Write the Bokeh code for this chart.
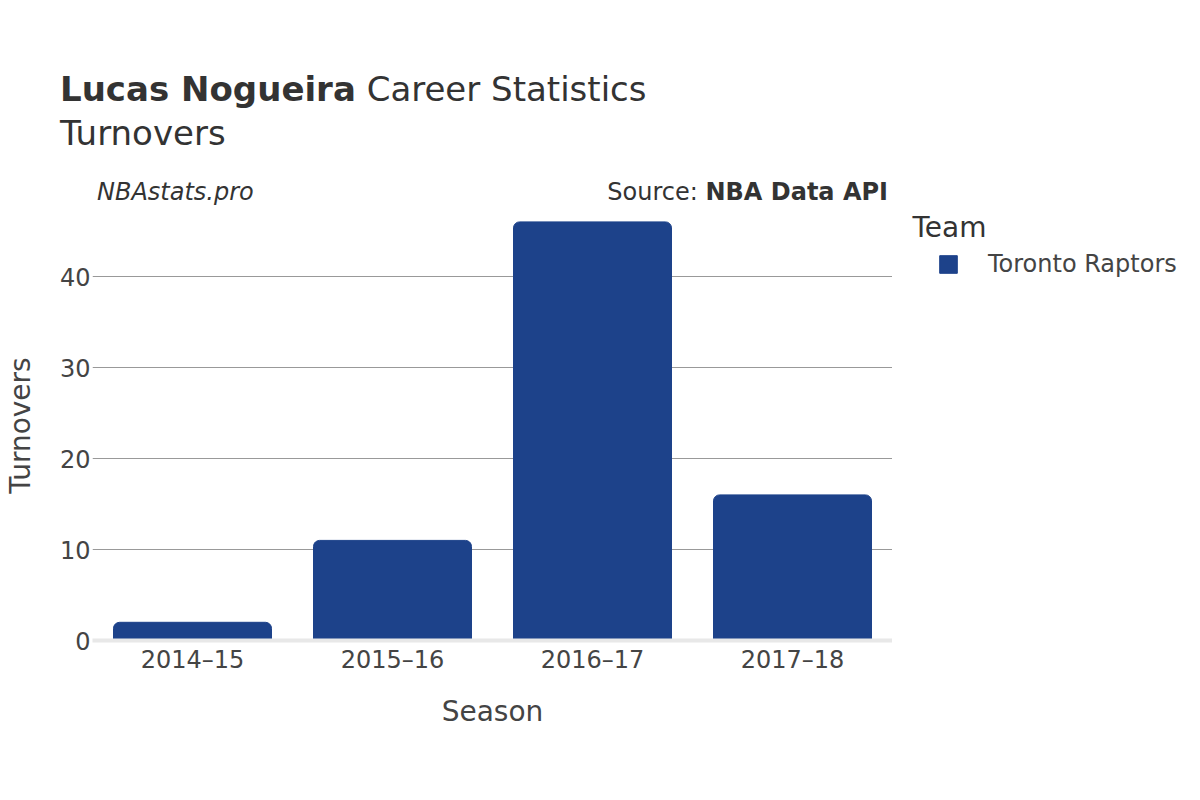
from bokeh.plotting import figure
from bokeh.models import ColumnDataSource, Label, Legend, LegendItem, FixedTicker, Range1d, FactorRange, Div
from bokeh.layouts import column, row
from bokeh.embed import file_html
from bokeh.resources import INLINE

seasons = ["2014–15", "2015–16", "2016–17", "2017–18"]
turnovers = [2, 11, 46, 16]
team = "Toronto Raptors"
y_ticks = [0, 10, 20, 30, 40]

FONT = "DejaVu Sans"
TXT = "#444444"
BAR = "#1d428a"
TOP_H = 210       # height of the header block (page px)
MAIN_W = 892
FIG_H = 800 - TOP_H
PAGE_FB = 640     # frame bottom on the page
FB = PAGE_FB - TOP_H  # frame bottom inside figure
Y_MAX = FB / 9.1

src = ColumnDataSource(dict(season=seasons, tov=turnovers))

p = figure(width=MAIN_W, height=FIG_H, x_range=FactorRange(*seasons), y_range=Range1d(0, Y_MAX),
           output_backend="svg", toolbar_location=None,
           min_border_left=92, min_border_right=0, min_border_top=0,
           min_border_bottom=FIG_H - FB, margin=(0, 0, 0, 0))
p.outline_line_color = None
p.background_fill_color = "white"
p.x_range.range_padding = 0

r = p.vbar(x="season", top="tov", width=0.79, source=src, color=BAR,
           border_radius=(6, 6, 0, 0))

p.ygrid.ticker = FixedTicker(ticks=y_ticks)
p.ygrid.grid_line_color = "#999999"
p.ygrid.grid_line_width = 1
p.xgrid.grid_line_color = None

p.yaxis.ticker = FixedTicker(ticks=y_ticks)
for ax in (p.xaxis[0], p.yaxis[0]):
    ax.axis_line_color = None
    ax.major_tick_line_color = None
    ax.minor_tick_line_color = None
    ax.major_tick_out = 0
    ax.major_tick_in = 0
    ax.minor_tick_out = 0
    ax.minor_tick_in = 0
    ax.major_label_text_font = FONT
    ax.major_label_text_font_size = "24px"
    ax.major_label_text_color = TXT
    ax.axis_label_text_font = FONT
    ax.axis_label_text_font_size = "28px"
    ax.axis_label_text_font_style = "normal"
    ax.axis_label_text_color = TXT

p.xaxis.axis_line_color = "#e8e8e8"
p.xaxis.axis_line_width = 4
p.xaxis.axis_label = "Season"
p.yaxis.axis_label = "Turnovers"
p.xaxis.major_label_standoff = 5
p.xaxis.axis_label_standoff = 18
p.yaxis.major_label_standoff = 2
p.yaxis.axis_label_standoff = 20

# legend panel (its frame is aligned with the main frame by the row layout)
lg = figure(width=1200 - MAIN_W, height=FIG_H, x_range=FactorRange(*seasons), y_range=Range1d(0, 1),
            output_backend="svg", toolbar_location=None, x_axis_location=None, y_axis_location=None,
            min_border=0, margin=(0, 0, 0, 0))
lg.outline_line_color = None
lg.grid.visible = False
lr = lg.vbar(x="season", top="tov", width=0.79, source=src, color=BAR, visible=False)

lg.add_layout(Label(x=20, y=PAGE_FB - 227, x_units="screen", y_units="screen", text="Team",
                    text_font=FONT, text_font_size="28px", text_color="#333333",
                    text_baseline="alphabetic"))
legend = Legend(items=[LegendItem(label=team, renderers=[lr])],
                location=(937 - MAIN_W, PAGE_FB - 278), orientation="vertical")
legend.label_text_font = FONT
legend.label_text_font_size = "24px"
legend.label_text_color = TXT
legend.glyph_width = 22
legend.glyph_height = 22
legend.border_line_color = None
legend.background_fill_alpha = 0
legend.label_standoff = 29
legend.padding = 0
legend.margin = 0
legend.spacing = 0
lg.add_layout(legend, "center")

header_html = (
    '<div style="position:relative;width:1200px;height:210px;font-family:\'DejaVu Sans\';color:#333333;">'
    '<div style="position:absolute;left:60px;top:67px;font-size:34px;line-height:44px;white-space:nowrap;">'
    '<b>Lucas Nogueira</b> Career Statistics</div>'
    '<div style="position:absolute;left:60px;top:111px;font-size:34px;line-height:44px;white-space:nowrap;">'
    'Turnovers</div>'
    '<div style="position:absolute;left:97px;top:180px;font-size:24px;line-height:24px;font-style:italic;white-space:nowrap;">'
    'NBAstats.pro</div>'
    '<div style="position:absolute;right:312px;top:180px;font-size:24px;line-height:24px;white-space:nowrap;">'
    'Source: <b>NBA Data API</b></div>'
    '</div>'
)
header = Div(text=header_html, width=1200, height=TOP_H, margin=(0, 0, 0, 0))

layout = column(header, row(p, lg, spacing=0, margin=(0, 0, 0, 0)), spacing=0, margin=(0, 0, 0, 0))
open("out.html", "w").write(file_html(layout, INLINE))
